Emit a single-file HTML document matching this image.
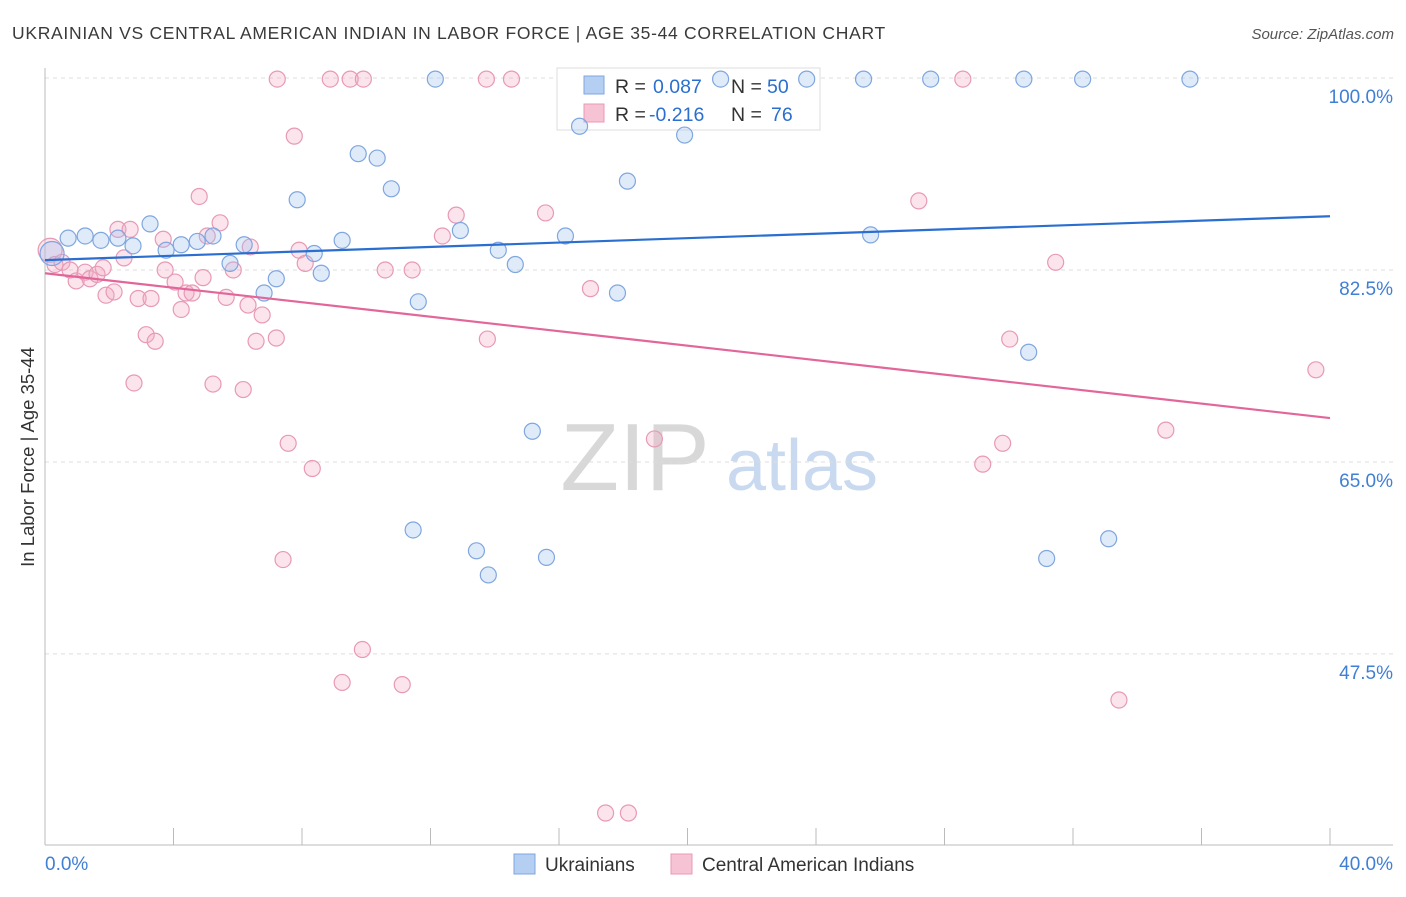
<!DOCTYPE html>
<html><head><meta charset="utf-8"><style>
body{margin:0;background:#fff;font-family:"Liberation Sans",sans-serif;}
svg text{font-family:"Liberation Sans",sans-serif;}
</style></head><body>
<svg id="chart" width="1406" height="892" xmlns="http://www.w3.org/2000/svg">
<text x="12" y="39" font-size="17.5" fill="#3a3a3a" letter-spacing="0.7">UKRAINIAN VS CENTRAL AMERICAN INDIAN IN LABOR FORCE | AGE 35-44 CORRELATION CHART</text>
<text x="1394" y="39" font-size="15" fill="#555" text-anchor="end" font-style="italic">Source: ZipAtlas.com</text>
<g>
<text x="635" y="490" font-size="96" fill="#d8d8d8" text-anchor="middle" font-family="Liberation Serif,serif">ZIP</text>
<text x="802" y="490" font-size="72" fill="#c9daf0" text-anchor="middle">atlas</text>
</g>
<g id="grid"></g>
<g id="axes"></g>
<g>
<rect x="557" y="68" width="263" height="62" fill="#fff" stroke="#ddd"/>
<rect x="584" y="76" width="20" height="18" fill="#b5cff3" stroke="#7fa6df"/>
<rect x="584" y="104" width="20" height="18" fill="#f6c3d4" stroke="#e899b5"/>
<text x="615" y="93" font-size="19.5" fill="#333">R =</text>
<text x="653" y="93" font-size="19.5" fill="#2a6fd0">0.087</text>
<text x="731" y="93" font-size="19.5" fill="#333">N =</text>
<text x="767" y="93" font-size="19.5" fill="#2a6fd0">50</text>
<text x="615" y="121" font-size="19.5" fill="#333">R =</text>
<text x="649" y="121" font-size="19.5" fill="#2a6fd0">-0.216</text>
<text x="731" y="121" font-size="19.5" fill="#333">N =</text>
<text x="771" y="121" font-size="19.5" fill="#2a6fd0">76</text>
</g>
<g id="marks"></g>
<g>
<rect x="514" y="854" width="21" height="20" fill="#b5cff3" stroke="#7fa6df"/>
<text x="545" y="871" font-size="19" fill="#333">Ukrainians</text>
<rect x="671" y="854" width="21" height="20" fill="#f6c3d4" stroke="#e899b5"/>
<text x="702" y="871" font-size="19" fill="#333">Central American Indians</text>
</g>
</svg>
<script>
const blueX=[0.22,0.72,1.25,1.74,2.27,2.74,3.27,3.77,4.24,4.74,5.23,5.76,6.20,6.82,7.20,7.85,8.38,8.60,9.25,9.75,10.34,10.78,11.62,11.46,12.15,12.93,13.43,13.80,14.11,14.64,15.17,15.61,16.20,16.64,17.82,18.13,19.91,21.03,23.71,25.48,25.70,27.57,30.47,30.62,31.18,32.30,33.11,35.64];
const blueY=[84.0,85.4,85.6,85.2,85.4,84.7,86.7,84.3,84.8,85.1,85.6,83.1,84.8,80.4,81.7,88.9,84.0,82.2,85.2,93.1,92.7,89.9,79.6,58.8,99.9,86.1,56.9,54.7,84.3,83.0,67.8,56.3,85.6,95.6,80.4,90.6,94.8,99.9,99.9,99.9,85.7,99.9,99.9,75.0,56.2,99.9,58.0,99.9];
const pinkX=[0.16,0.31,0.53,0.78,0.97,1.25,1.40,1.62,1.81,1.90,2.15,2.27,2.46,2.65,2.77,2.90,3.15,3.30,3.43,3.68,3.74,4.05,4.24,4.39,4.58,4.80,4.92,5.05,5.23,5.45,5.64,5.86,6.17,6.32,6.39,6.57,6.76,7.20,7.23,7.57,7.41,7.76,7.91,8.10,8.32,8.88,9.25,9.50,9.91,9.88,10.59,11.12,11.43,12.37,12.80,13.74,13.77,14.52,15.58,16.98,17.45,18.16,18.97,27.20,28.57,29.19,29.81,30.03,31.46,33.43,34.89,39.56];
const pinkY=[84.3,83.0,83.2,82.5,81.5,82.3,81.7,82.1,82.7,80.2,80.5,86.2,83.6,86.2,72.2,79.9,76.6,79.9,76.0,85.3,82.5,81.4,78.9,80.4,80.4,89.2,81.8,85.6,72.1,86.8,80.0,82.5,71.6,79.3,84.6,76.0,78.4,76.3,99.9,66.7,56.1,94.7,84.3,83.1,64.4,99.9,44.9,99.9,99.9,47.9,82.5,44.7,82.5,85.6,87.5,99.9,76.2,99.9,87.7,80.8,33.0,33.0,67.1,88.8,99.9,64.8,66.7,76.2,83.2,43.3,67.9,73.4];
const blueTrend=[83.4,87.4];
const pinkTrend=[82.2,69.0];
const yTicks=[100,82.5,65,47.5];
const yTickLabels=["100.0%","82.5%","65.0%","47.5%"];
const xTicks=[0,4,8,12,16,20,24,28,32,36,40];

const NS="http://www.w3.org/2000/svg";
const sx=v=>45+v*32.125;
const sy=v=>78+(100-v)*10.97;
function mk(tag,attrs,parent){const e=document.createElementNS(NS,tag);for(const k in attrs)e.setAttribute(k,attrs[k]);parent.appendChild(e);return e;}
const grid=document.getElementById('grid'),axes=document.getElementById('axes'),marks=document.getElementById('marks');
yTicks.forEach((t,i)=>{
 const l=mk('line',{x1:45,x2:1393,y1:sy(t),y2:sy(t),stroke:'#ddd','stroke-dasharray':'4,4'},grid);
 
 
 const tx=mk('text',{x:1393,y:sy(t)+25,'font-size':19,fill:'#3f7fd6','text-anchor':'end'},axes);
 tx.textContent=yTickLabels[i];
 
 
});
const ya=mk('line',{x1:45,x2:45,y1:68,y2:845,stroke:'#bbb'},axes);


const xa=mk('line',{x1:45,x2:1393,y1:845,y2:845,stroke:'#bbb'},axes);


xTicks.forEach(t=>{
 const l=mk('line',{x1:sx(t),x2:sx(t),y1:828,y2:845,stroke:'#bbb'},axes);
 
 
});
const xl0=mk('text',{x:45,y:870,'font-size':19,fill:'#3f7fd6'},axes);xl0.textContent='0.0%';


const xl1=mk('text',{x:1393,y:870,'font-size':19,fill:'#3f7fd6','text-anchor':'end'},axes);xl1.textContent='40.0%';


const yt=mk('text',{x:0,y:0,'font-size':18.5,fill:'#333','text-anchor':'middle',transform:'translate(34,457) rotate(-90)'},axes);
yt.textContent='In Labor Force | Age 35-44';



function pts(xs,ys,fill,stroke,name){
 xs.forEach((x,i)=>{
  const c=mk('circle',{cx:sx(x),cy:sy(ys[i]),r:i===0?12:8,fill:fill,stroke:stroke,'stroke-width':1.2},marks);
  
  
 });
}
pts(pinkX,pinkY,'rgba(244,170,196,0.32)','#e899b5','point-central-american-indian');
pts(blueX,blueY,'rgba(160,192,238,0.32)','#7fa6df','point-ukrainian');
const bl=mk('line',{x1:sx(0),y1:sy(blueTrend[0]),x2:sx(40),y2:sy(blueTrend[1]),stroke:'#2a6fd0','stroke-width':2.2},marks);


const pl=mk('line',{x1:sx(0),y1:sy(pinkTrend[0]),x2:sx(40),y2:sy(pinkTrend[1]),stroke:'#e2669a','stroke-width':2.2},marks);


</script>
</body></html>
